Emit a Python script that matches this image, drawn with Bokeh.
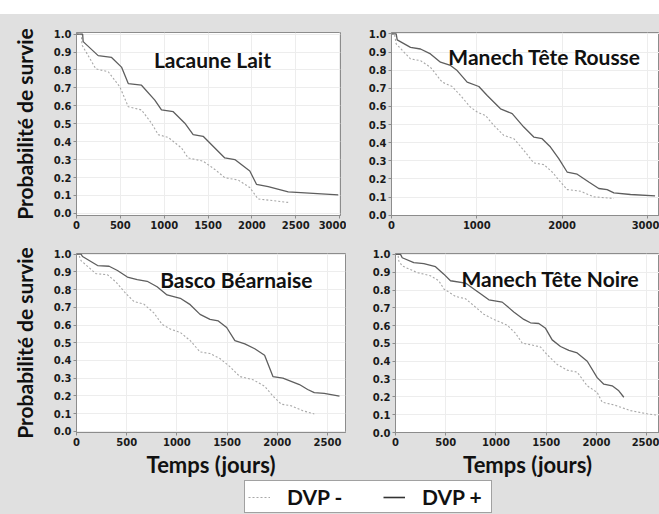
from bokeh.plotting import figure
from bokeh.layouts import column, row
from bokeh.models import (Range1d, FixedTicker, PrintfTickFormatter, Label,
                          Legend, LegendItem, Spacer)
from bokeh.embed import file_html
from bokeh.resources import INLINE

# ---------------- data ----------------
breeds = ["Lacaune Lait", "Manech Tête Rousse", "Basco Béarnaise", "Manech Tête Noire"]
series_names = ["DVP -", "DVP +"]
y_ticks = [0.0, 0.1, 0.2, 0.3, 0.4, 0.5, 0.6, 0.7, 0.8, 0.9, 1.0]
x_ticks_ll = [0, 500, 1000, 1500, 2000, 2500, 3000]
x_ticks_mtr = [0, 1000, 2000, 3000]
x_ticks_bb = [0, 500, 1000, 1500, 2000, 2500]
x_ticks_mtn = [0, 500, 1000, 1500, 2000, 2500]

ll_plus_days = [0, 70, 76, 247, 400, 513, 590, 741, 893, 969, 1103, 1235, 1330, 1444, 1577,
                1691, 1805, 1976, 2052, 2186, 2414, 2984]
ll_plus_surv = [1.0, 1.0, 0.958, 0.88, 0.87, 0.816, 0.724, 0.715, 0.632, 0.577, 0.567, 0.503,
                0.439, 0.43, 0.365, 0.309, 0.30, 0.236, 0.162, 0.149, 0.12, 0.103]
ll_minus_days = [0, 55, 62, 220, 362, 494, 590, 741, 855, 932, 1046, 1197, 1273, 1444, 1577,
                 1691, 1843, 1976, 2071, 2186, 2414]
ll_minus_surv = [1.0, 1.0, 0.94, 0.806, 0.79, 0.706, 0.595, 0.577, 0.503, 0.439, 0.424, 0.365,
                 0.309, 0.291, 0.245, 0.199, 0.186, 0.144, 0.08, 0.074, 0.061]

mtr_plus_days = [0, 55, 67, 223, 340, 457, 574, 692, 770, 887, 1024, 1122, 1278, 1415, 1551,
                 1668, 1766, 1864, 1961, 2059, 2177, 2313, 2430, 2528, 2607, 2802, 3090]
mtr_plus_surv = [1.0, 1.0, 0.967, 0.926, 0.917, 0.89, 0.844, 0.826, 0.798, 0.734, 0.71, 0.66,
                 0.587, 0.56, 0.486, 0.431, 0.422, 0.376, 0.312, 0.238, 0.226, 0.183, 0.147,
                 0.141, 0.123, 0.114, 0.106]
mtr_minus_days = [0, 35, 55, 223, 340, 457, 594, 712, 809, 926, 1005, 1102, 1200, 1317, 1434,
                  1551, 1668, 1786, 1884, 1981, 2059, 2216, 2372, 2607]
mtr_minus_surv = [1.0, 1.0, 0.945, 0.862, 0.853, 0.816, 0.734, 0.71, 0.66, 0.596, 0.569, 0.55,
                  0.495, 0.44, 0.422, 0.358, 0.288, 0.279, 0.238, 0.183, 0.141, 0.132, 0.101,
                  0.092]

bb_plus_days = [0, 45, 60, 210, 325, 408, 507, 605, 704, 803, 902, 1034, 1133, 1231, 1330,
                1413, 1496, 1578, 1677, 1776, 1874, 1957, 2056, 2221, 2303, 2369, 2468, 2620]
bb_plus_surv = [1.0, 1.0, 0.987, 0.936, 0.932, 0.908, 0.871, 0.856, 0.847, 0.816, 0.77, 0.751,
                0.715, 0.66, 0.632, 0.623, 0.586, 0.512, 0.494, 0.466, 0.429, 0.309, 0.300,
                0.264, 0.236, 0.218, 0.214, 0.199]
bb_minus_days = [0, 20, 45, 193, 309, 391, 490, 572, 671, 770, 853, 935, 1034, 1133, 1231,
                 1330, 1429, 1528, 1627, 1759, 1874, 1957, 2040, 2139, 2254, 2369]
bb_minus_surv = [1.0, 1.0, 0.964, 0.89, 0.884, 0.844, 0.779, 0.733, 0.718, 0.669, 0.604,
                 0.577, 0.558, 0.512, 0.448, 0.439, 0.411, 0.365, 0.309, 0.291, 0.254, 0.199,
                 0.153, 0.144, 0.116, 0.098]

mtn_plus_days = [0, 50, 67, 182, 282, 398, 481, 547, 697, 779, 846, 929, 1062, 1177, 1277,
                 1343, 1426, 1493, 1559, 1642, 1725, 1808, 1908, 2007, 2073, 2156, 2222, 2272]
mtn_plus_surv = [1.0, 1.0, 0.981, 0.954, 0.948, 0.931, 0.889, 0.852, 0.839, 0.806, 0.779,
                 0.745, 0.732, 0.677, 0.635, 0.616, 0.612, 0.585, 0.52, 0.483, 0.461, 0.447,
                 0.40, 0.308, 0.271, 0.262, 0.234, 0.198]
mtn_minus_days = [0, 25, 33, 67, 216, 348, 431, 481, 597, 697, 796, 879, 978, 1111, 1194,
                  1261, 1343, 1443, 1509, 1609, 1708, 1808, 1908, 2007, 2057, 2173, 2338,
                  2504, 2620]
mtn_minus_surv = [1.0, 1.0, 0.963, 0.935, 0.898, 0.88, 0.852, 0.806, 0.764, 0.751, 0.704,
                  0.664, 0.635, 0.603, 0.557, 0.502, 0.493, 0.48, 0.437, 0.382, 0.35, 0.339,
                  0.262, 0.225, 0.17, 0.155, 0.123, 0.105, 0.096]

y_title = "Probabilité de survie"
x_title = "Temps (jours)"

# ---------------- styling ----------------
BG = "#e0e0e0"
TITLE_FONT = "Lato"
TICK_FONT = "DejaVu Sans"
FRAME_COL = "#8c8c8c"
GRID_COL = "#ededed"
PLUS_COL = "#5e5e5e"
MINUS_COL = "#a8a8a8"


def make_panel(name, xr, yr, xticks, plus, minus, w, h, bl, br, bt, bb,
               title_xy, ylabel=False, xlabel=False):
    p = figure(width=w, height=h, output_backend="svg", toolbar_location=None,
               x_range=Range1d(*xr), y_range=Range1d(*yr),
               min_border_left=bl, min_border_right=br, min_border_top=bt,
               min_border_bottom=bb)
    p.border_fill_color = BG
    p.background_fill_color = "white"
    p.outline_line_color = FRAME_COL
    p.outline_line_width = 1

    p.xaxis.ticker = FixedTicker(ticks=xticks)
    p.yaxis.ticker = FixedTicker(ticks=y_ticks)
    p.yaxis.formatter = PrintfTickFormatter(format="%.1f")
    for ax in (p.xaxis, p.yaxis):
        ax.axis_line_color = FRAME_COL
        ax.major_tick_line_color = FRAME_COL
        ax.major_tick_out = 3
        ax.major_tick_in = 0
        ax.minor_tick_line_color = None
        ax.major_label_text_font = TICK_FONT
        ax.major_label_text_font_style = "bold"
        ax.major_label_text_font_size = "10px"
        ax.major_label_text_color = "#1a1a1a"
    p.xaxis.major_label_standoff = 2
    p.yaxis.major_label_standoff = 2
    p.xgrid.ticker = FixedTicker(ticks=xticks)
    p.ygrid.ticker = FixedTicker(ticks=y_ticks)
    p.grid.grid_line_color = GRID_COL

    if ylabel:
        p.yaxis.axis_label = y_title
        p.yaxis.axis_label_text_font = TITLE_FONT
        p.yaxis.axis_label_text_font_style = "bold"
        p.yaxis.axis_label_text_font_size = "21px"
        p.yaxis.axis_label_text_color = "#111111"
        p.yaxis.axis_label_standoff = 14
    if xlabel:
        p.xaxis.axis_label = x_title
        p.xaxis.axis_label_text_font = TITLE_FONT
        p.xaxis.axis_label_text_font_style = "bold"
        p.xaxis.axis_label_text_font_size = "22px"
        p.xaxis.axis_label_text_color = "#111111"
        p.xaxis.axis_label_standoff = 2

    p.line(minus[0], minus[1], line_color=MINUS_COL, line_width=1.1, line_dash="2 2")
    p.line(plus[0], plus[1], line_color=PLUS_COL, line_width=1.3)

    p.add_layout(Label(x=title_xy[0], y=title_xy[1], text=name, text_align="center",
                       text_baseline="alphabetic", text_font=TITLE_FONT,
                       text_font_style="bold", text_font_size="21px",
                       text_color="#111111"))
    return p


p1 = make_panel(breeds[0], (0, 3010), (-0.012, 1.009), x_ticks_ll,
                (ll_plus_days, ll_plus_surv), (ll_minus_days, ll_minus_surv),
                346, 218, 76, 6, 16, 17, (1550, 0.86), ylabel=True)
p2 = make_panel(breeds[1], (0, 3142), (-0.002, 1.008), x_ticks_mtr,
                (mtr_plus_days, mtr_plus_surv), (mtr_minus_days, mtr_minus_surv),
                313, 218, 45, 0, 18, 17, (1794, 0.875))
p3 = make_panel(breeds[2], (0, 2680), (-0.007, 1.004), x_ticks_bb,
                (bb_plus_days, bb_plus_surv), (bb_minus_days, bb_minus_surv),
                346, 248, 76, 1, 20, 46, (1592, 0.855), ylabel=True, xlabel=True)
p4 = make_panel(breeds[3], (0, 2627), (0.0, 1.005), x_ticks_mtn,
                (mtn_plus_days, mtn_plus_surv), (mtn_minus_days, mtn_minus_surv),
                313, 248, 49, 0, 21, 46, (1542, 0.863), xlabel=True)

# legend strip (its renderers use the series but lie outside the visible range)
lg = figure(width=659, height=34, output_backend="svg", toolbar_location=None,
            x_axis_location=None, y_axis_location=None,
            x_range=Range1d(-2, -1), y_range=Range1d(-2, -1),
            min_border_left=0, min_border_right=0, min_border_top=0, min_border_bottom=0)
lg.border_fill_color = BG
lg.background_fill_color = BG
lg.outline_line_color = None
lg.grid.visible = False
r_minus = lg.line(ll_minus_days, ll_minus_surv, line_color=MINUS_COL, line_width=1.1,
                  line_dash="2 2")
r_plus = lg.line(ll_plus_days, ll_plus_surv, line_color="#333333", line_width=1.6)
legend = Legend(items=[LegendItem(label=series_names[0], renderers=[r_minus]),
                       LegendItem(label=series_names[1], renderers=[r_plus])],
                orientation="horizontal", location=(244, 1),
                padding=3, spacing=30, margin=0,
                glyph_width=22, glyph_height=14, label_standoff=17, label_width=66,
                label_height=14,
                label_text_font=TITLE_FONT, label_text_font_style="bold",
                label_text_font_size="21px", label_text_color="#111111",
                border_line_color="#444444", border_line_width=1.5,
                background_fill_color="white", background_fill_alpha=1.0)
lg.add_layout(legend)

layout = column(Spacer(width=659, height=14, styles={"background-color": "white"}),
                row(p1, p2, styles={"background-color": BG}),
                row(p3, p4, styles={"background-color": BG}),
                lg, styles={"background-color": BG})
open("out.html", "w").write(file_html(layout, INLINE))
